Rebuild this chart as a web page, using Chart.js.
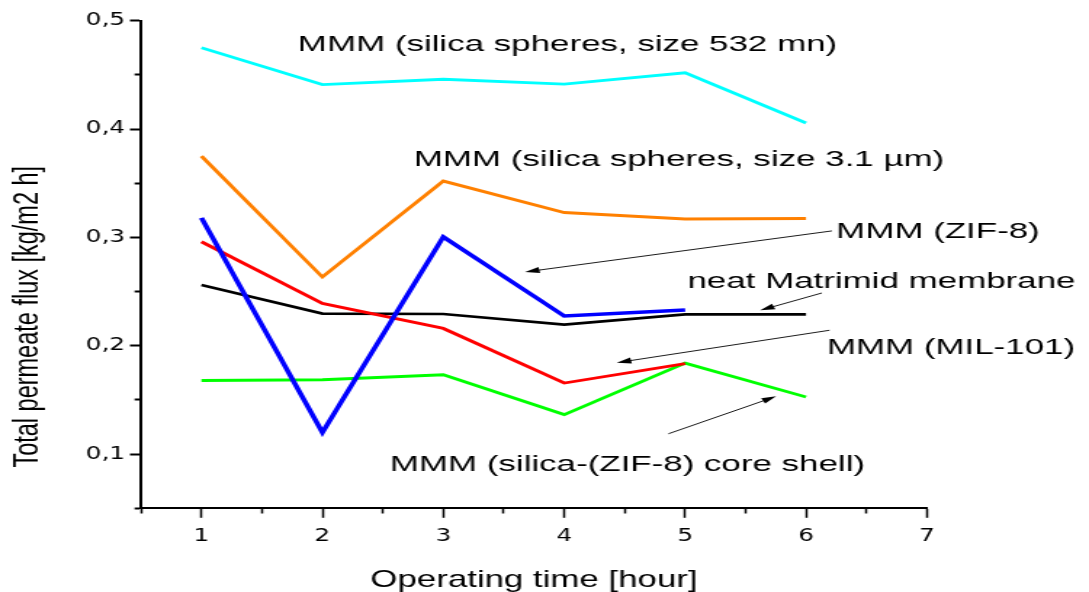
<!DOCTYPE html>
<html>
<head>
<meta charset="utf-8">
<script src="https://cdn.jsdelivr.net/npm/chart.js@4/dist/chart.umd.min.js"></script>
<style>
  html, body { margin: 0; padding: 0; background: #fff; overflow: hidden; }
</style>
</head>
<body>
<canvas id="c" width="750" height="592" style="display:block;width:1089px;height:592px"></canvas>
<script>
// ---- data ----
const hours = [1, 2, 3, 4, 5, 6];
const silica532 = [0.475, 0.441, 0.446, 0.4415, 0.452, 0.4055];
const silica31 = [0.375, 0.2635, 0.352, 0.323, 0.317, 0.3175];
const zif8 = [0.318, 0.120, 0.3005, 0.2275, 0.233];
const mil101 = [0.296, 0.239, 0.216, 0.1656, 0.1835];
const neatMatrimid = [0.256, 0.2297, 0.2293, 0.2195, 0.229, 0.229];
const coreShell = [0.168, 0.1687, 0.1733, 0.1364, 0.184, 0.1527];

const xMin = 0.5, xMax = 7, xStep = 0.5;
const yMin = 0.05, yMax = 0.5, yStep = 0.05;

const labelTexts = [
  'MMM (silica spheres, size 532 mn)',
  'MMM (silica spheres, size 3.1 \u00b5m)',
  'MMM (ZIF-8)',
  'neat Matrimid membrane',
  'MMM (MIL-101)',
  'MMM (silica-(ZIF-8) core shell)'
];
const xTitle = 'Operating time [hour]';
const yTitle = 'Total permeate flux [kg/m2 h]';

// ---- annotation placement (data coordinates) ----
const labelPos = [
  [1.797, 0.4723], [2.757, 0.3660], [6.249, 0.2999],
  [5.019, 0.2537], [6.172, 0.1928], [2.558, 0.0843]
];
const arrows = [
  [6.214, 0.306, 3.676, 0.2681],
  [6.131, 0.2487, 5.621, 0.2327],
  [6.194, 0.2143, 4.435, 0.1844],
  [4.862, 0.1188, 5.753, 0.1533]
];

function pts(vals) { return vals.map((v, i) => ({ x: hours[i], y: v })); }

const isMajorX = v => Math.abs(v - Math.round(v)) < 1e-6;
const isMajorY = v => Math.abs(v * 10 - Math.round(v * 10)) < 1e-6;

const annot = {
  id: 'annot',
  afterDatasetsDraw(chart) {
    const ctx = chart.ctx, xs = chart.scales.x, ys = chart.scales.y;
    ctx.save();
    ctx.strokeStyle = '#000';
    ctx.fillStyle = '#000';
    ctx.lineWidth = 0.9;
    arrows.forEach(a => {
      const x1 = xs.getPixelForValue(a[0]), y1 = ys.getPixelForValue(a[1]);
      const x2 = xs.getPixelForValue(a[2]), y2 = ys.getPixelForValue(a[3]);
      const ang = Math.atan2(y2 - y1, x2 - x1);
      const L = 10, H = 3;
      ctx.beginPath();
      ctx.moveTo(x1, y1);
      ctx.lineTo(x2 - L * 0.8 * Math.cos(ang), y2 - L * 0.8 * Math.sin(ang));
      ctx.stroke();
      ctx.beginPath();
      ctx.moveTo(x2, y2);
      ctx.lineTo(x2 - L * Math.cos(ang) + H * Math.sin(ang), y2 - L * Math.sin(ang) - H * Math.cos(ang));
      ctx.lineTo(x2 - L * Math.cos(ang) - H * Math.sin(ang), y2 - L * Math.sin(ang) + H * Math.cos(ang));
      ctx.closePath();
      ctx.fill();
    });
    ctx.font = '22px "Liberation Sans", Arial, sans-serif';
    ctx.textAlign = 'left';
    ctx.textBaseline = 'alphabetic';
    labelTexts.forEach((t, i) => {
      const x = xs.getPixelForValue(labelPos[i][0]);
      const y = ys.getPixelForValue(labelPos[i][1]);
      ctx.save();
      ctx.translate(x, y);
      ctx.scale(1.093, 1);
      ctx.fillText(t, 0, 0);
      ctx.restore();
    });
    ctx.restore();
  }
};

const tickFont = { family: '"DejaVu Sans", sans-serif', size: 17 };
const titleFont = { family: '"Liberation Sans", Arial, sans-serif', size: 24, lineHeight: 1 };

new Chart(document.getElementById('c'), {
  type: 'line',
  data: {
    datasets: [
      { label: 'MMM (ZIF-8)', data: pts(zif8), borderColor: '#0000ff', borderWidth: 3.6 },
      { label: 'MMM (MIL-101)', data: pts(mil101), borderColor: '#ff0000', borderWidth: 2.9 },
      { label: 'MMM (silica-(ZIF-8) core shell)', data: pts(coreShell), borderColor: '#00ff00', borderWidth: 2.9 },
      { label: 'neat Matrimid membrane', data: pts(neatMatrimid), borderColor: '#000000', borderWidth: 2.6 },
      { label: 'MMM (silica spheres, size 3.1 \u00b5m)', data: pts(silica31), borderColor: '#ff8000', borderWidth: 2.9 },
      { label: 'MMM (silica spheres, size 532 mn)', data: pts(silica532), borderColor: '#00ffff', borderWidth: 2.9 }
    ]
  },
  options: {
    responsive: false,
    devicePixelRatio: 1,
    animation: false,
    events: [],
    layout: { padding: { top: 20.7, right: 111.6, bottom: 0, left: 0 } },
    elements: { point: { radius: 0 }, line: { tension: 0, fill: false, borderJoinStyle: 'miter' } },
    plugins: { legend: { display: false }, tooltip: { enabled: false } },
    scales: {
      x: {
        type: 'linear', min: xMin, max: xMax,
        afterFit: s => { s.height = 83.7; },
        border: { display: true, color: '#000', width: 2 },
        grid: {
          display: true, drawOnChartArea: false, drawTicks: true,
          tickLength: 9.5, tickColor: '#000', tickWidth: 1.5,
          tickBorderDash: c => isMajorX(c.tick.value) ? [] : [4.5, 50],
          tickBorderDashOffset: 0
        },
        ticks: {
          stepSize: xStep, autoSkip: false, maxRotation: 0, color: '#000', font: tickFont, padding: 9,
          callback: v => isMajorX(v) ? String(Math.round(v)) : ''
        },
        title: { display: true, text: xTitle, color: '#000', font: titleFont, padding: { top: 0, bottom: 0 } }
      },
      y: {
        type: 'linear', min: yMin, max: yMax,
        afterFit: s => { s.width = 97.1; },
        border: { display: true, color: '#000', width: 2 },
        grid: {
          display: true, drawOnChartArea: false, drawTicks: true,
          tickLength: 7.6, tickColor: '#000', tickWidth: 2,
          tickBorderDash: c => isMajorY(c.tick.value) ? [] : [3.4, 3.2],
          tickBorderDashOffset: 3.4
        },
        ticks: {
          stepSize: yStep, autoSkip: false, color: '#000', font: tickFont, padding: 3.4,
          callback: v => isMajorY(v) ? v.toFixed(1).replace('.', ',') : ''
        },
        title: {
          display: true, text: yTitle + '\u00a0'.repeat(16), color: '#000',
          font: { family: '"Liberation Sans", Arial, sans-serif', size: 23.5, lineHeight: 1.2 },
          padding: { top: 5.6, bottom: 0 }
        }
      }
    }
  },
  plugins: [annot]
});
</script>
</body>
</html>
